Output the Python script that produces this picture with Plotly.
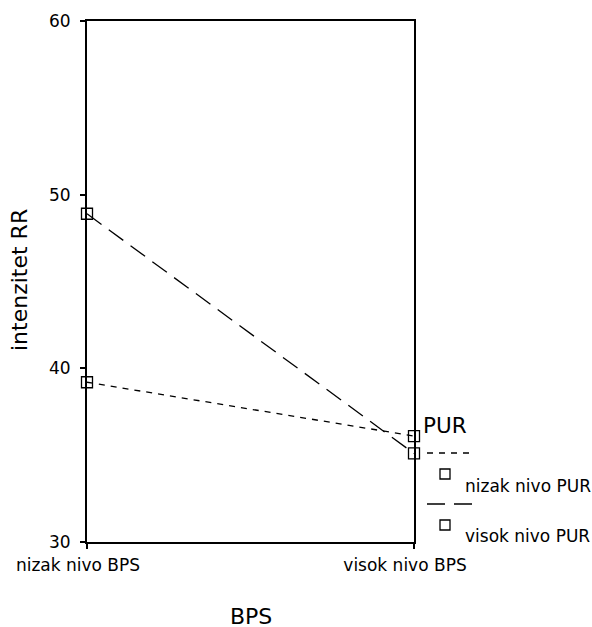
import plotly.graph_objects as go

categories = ["nizak nivo BPS", "visok nivo BPS"]
series_names = ["nizak nivo PUR", "visok nivo PUR"]
nizak_pur = [39.2, 36.1]
visok_pur = [48.9, 35.1]
y_ticks = [30, 40, 50, 60]

FONT = "DejaVu Sans"
x_pos = [0, 1]
DOT = "6px,6px"
DASH = "18px,9px"

fig = go.Figure()
fig.add_trace(go.Scatter(x=x_pos, y=nizak_pur, mode="lines+markers", name=series_names[0],
                         line=dict(color="black", width=1.3, dash=DOT),
                         marker=dict(symbol="square-open", size=11, color="black", line=dict(width=1.3)),
                         cliponaxis=False))
fig.add_trace(go.Scatter(x=x_pos, y=visok_pur, mode="lines+markers", name=series_names[1],
                         line=dict(color="black", width=1.3, dash=DASH),
                         marker=dict(symbol="square-open", size=11, color="black", line=dict(width=1.3)),
                         cliponaxis=False))

L, R, T, B = 87, 178, 21, 85
W, H = 592, 627
pw, ph = W - L - R, H - T - B

def px_x(px):
    return (px - L) / pw

def px_y(py):
    return (H - B - py) / ph

fig.update_layout(
    width=W, height=H,
    margin=dict(l=L, r=R, t=T, b=B, pad=0),
    paper_bgcolor="white", plot_bgcolor="white",
    showlegend=False,
    font=dict(family=FONT, color="black", size=17),
    xaxis=dict(range=[0, 1], tickvals=x_pos, ticktext=categories, showgrid=False, zeroline=False,
               showline=True, mirror=True, linecolor="black", linewidth=2,
               ticks="outside", ticklen=5, tickcolor="black", tickwidth=2,
               ticklabelshift=-9, ticklabelstandoff=2,
               tickfont=dict(size=17, family=FONT)),
    yaxis=dict(range=[30, 60], tickvals=y_ticks, showgrid=False, zeroline=False,
               showline=True, mirror=True, linecolor="black", linewidth=2,
               ticks="outside", ticklen=5, tickcolor="black", tickwidth=2,
               ticklabelstandoff=6,
               tickfont=dict(size=17, family=FONT)),
)

ann = [
    dict(text="intenzitet RR", x=px_x(19), y=px_y(280), textangle=-90, font=dict(size=22)),
    dict(text="BPS", x=px_x(251), y=px_y(616), font=dict(size=22), height=20, borderpad=0),
    dict(text="PUR", x=px_x(421), y=px_y(425), xanchor="left", font=dict(size=21.5)),
    dict(text=series_names[0], x=px_x(463), y=px_y(486), xanchor="left", font=dict(size=17)),
    dict(text=series_names[1], x=px_x(463), y=px_y(536), xanchor="left", font=dict(size=17)),
]
for a in ann:
    a.update(xref="paper", yref="paper", showarrow=False)
    a.setdefault("xanchor", "center")
    a["yanchor"] = "middle"
    fig.add_annotation(**a)

shapes = [
    dict(type="line", x0=px_x(427), x1=px_x(474), y0=px_y(453), y1=px_y(453),
         line=dict(color="black", width=1.3, dash=DOT)),
    dict(type="line", x0=px_x(427), x1=px_x(474), y0=px_y(504), y1=px_y(504),
         line=dict(color="black", width=1.3, dash=DASH)),
    dict(type="rect", x0=px_x(440), x1=px_x(450), y0=px_y(469), y1=px_y(479),
         line=dict(color="black", width=1.3)),
    dict(type="rect", x0=px_x(440), x1=px_x(450), y0=px_y(520), y1=px_y(530),
         line=dict(color="black", width=1.3)),
]
for s in shapes:
    s.update(xref="paper", yref="paper")
    fig.add_shape(**s)

fig.write_html("out.html")
